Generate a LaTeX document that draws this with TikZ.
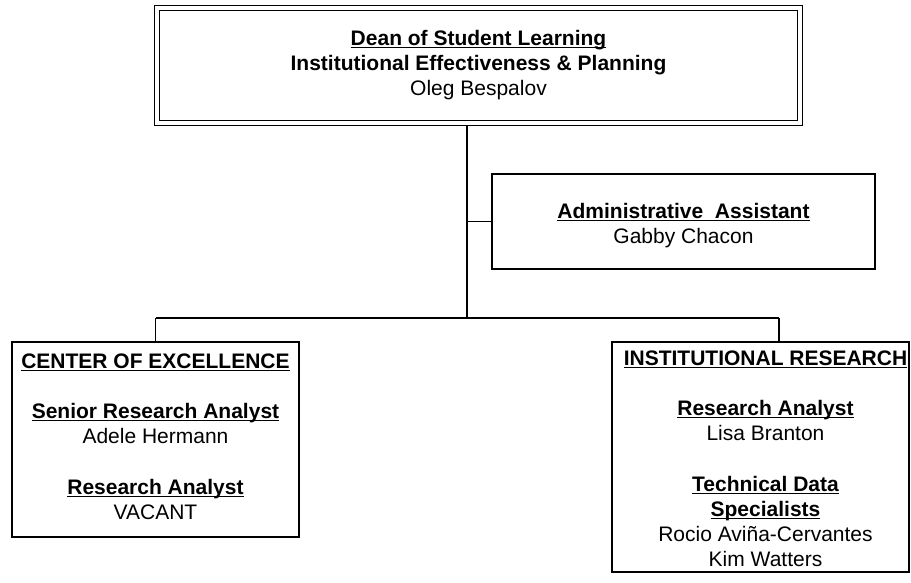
\documentclass[tikz,border=0pt]{standalone}
\usepackage{fontspec}
\setmainfont{Liberation Sans}
\newcommand{\ulh}[1]{\setbox0\hbox{\bfseries #1}\leavevmode\rlap{\rule[-2.4pt]{\wd0}{1.3pt}}\box0}
\begin{document}
\begin{tikzpicture}[x=1pt,y=-1pt,
  box/.style={draw,line width=1.6pt,align=center,inner sep=0pt,
    font=\fontsize{21}{25}\selectfont},
  txt/.style={align=center,inner sep=0pt,font=\fontsize{21}{25}\selectfont},
  conn/.style={line width=1.4pt},
  dblbox/.style={box,double,line width=1.5pt,double distance=3.5pt,outer sep=3.25pt}]
\useasboundingbox (0,0) rectangle (911,583);
\node[dblbox,minimum width=643pt,minimum height=115pt] (top) at (478.5,65.5)
  {\ulh{Dean of Student Learning}\\ \textbf{Institutional Effectiveness \& Planning}\\ Oleg Bespalov};
\node[box,minimum width=383pt,minimum height=95pt] (admin) at (683.5,221.5) {};
\node[txt] (admintxt) at (683.5,226) {\ulh{Administrative\ \ Assistant}\\ Gabby Chacon};
\node[box,minimum width=287pt,minimum height=195pt] (coe) at (155.5,439.5) {};
\node[txt] (coetxt) at (155.5,437)
  {\ulh{CENTER OF EXCELLENCE}\\[25pt] \ulh{Senior Research Analyst}\\ Adele Hermann\\[26pt] \ulh{Research Analyst}\\ VACANT};
\node[box,minimum width=297pt,minimum height=230pt] (ir) at (760.5,457) {};
\node[txt] (irtxt) at (765.5,459)
  {\ulh{INSTITUTIONAL RESEARCH}\\[25pt] \ulh{Research Analyst}\\ Lisa Branton\\[26pt] \ulh{Technical Data}\\ \ulh{Specialists}\\ Rocio Aviña-Cervantes\\ Kim Watters};
\coordinate (stem) at (467,318);
\coordinate (side) at (467,221.5);
\coordinate (lft) at (155.5,318);
\coordinate (rgt) at (779,318);
\draw[conn] (top.south -| stem) -- (stem);
\draw[conn] (side) -- (admin.west);
\draw[conn] (lft) -- (rgt);
\draw[conn] (lft) -- (coe.north);
\draw[conn] (rgt) -- (rgt |- ir.north);
\end{tikzpicture}
\end{document}
